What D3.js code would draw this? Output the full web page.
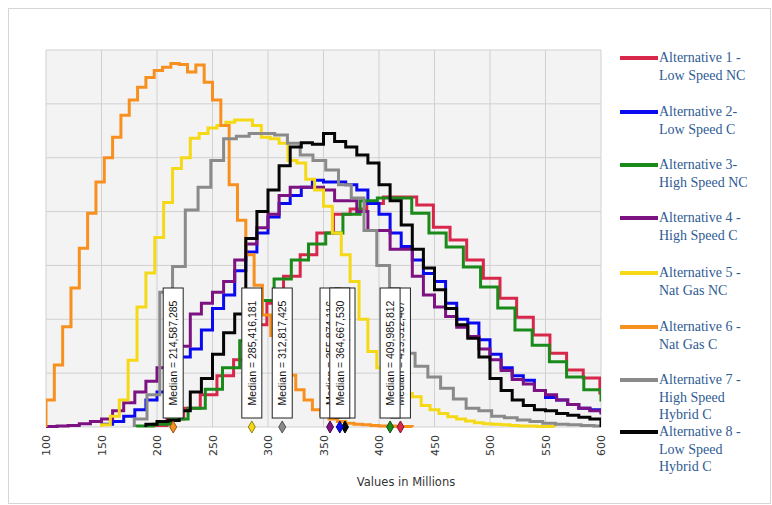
<!DOCTYPE html>
<html>
<head>
<meta charset="utf-8">
<title>Alternatives</title>
<script src="https://cdn.jsdelivr.net/npm/d3@7"></script>
<style>body{margin:0;background:#fff}</style>
</head>
<body>
<svg width="772" height="505" id="mainsvg"></svg>
<script>
// histogram heights (relative density), one array per alternative
const alt1 = [0.03,0.15,0.35,0.6,0.95,1.25,1.9,2.3,2.8,3.2,3.6,3.95,4.05,4.15,4.27,4.27,4.12,3.71,3.47,3.1,2.76,2.39,2.04,1.71,1.37,1.06,0.91,0.63,0.45];
const alt2 = [0.05,0.1,0.2,0.32,0.5,0.65,0.95,1.3,1.45,1.8,2.2,2.45,2.9,3.25,3.6,3.9,4.15,4.3,4.45,4.58,4.55,4.55,4.5,4.4,4.15,3.95,3.6,3.35,3.1,2.85,2.7,2.3,2.0,1.93,1.62,1.35,1.1,0.95,0.87,0.68,0.55,0.5,0.42,0.35,0.32,0.28];
const alt3 = [0.02,0.05,0.15,0.35,0.7,1.1,1.6,2.35,2.75,3.1,3.4,3.6,3.95,4.2,4.25,4.25,3.97,3.6,3.34,2.97,2.6,2.21,1.8,1.52,1.21,0.93,0.69,0.5];
const alt4 = [0.01,0.02,0.03,0.06,0.1,0.15,0.3,0.45,0.65,0.85,1.1,1.35,1.5,2.1,2.3,2.5,2.7,3.1,3.4,3.7,3.95,4.3,4.45,4.45,4.45,4.4,4.2,4.2,4.0,3.65,3.65,3.3,3.3,2.8,2.45,2.23,2.05,1.85,1.68,1.45,1.25,1.05,0.88,0.8,0.68,0.6,0.5,0.42,0.35,0.3,0.26];
const alt5 = [0.04,0.2,0.5,1.24,2.23,2.86,3.52,4.17,4.8,5.0,5.36,5.45,5.55,5.6,5.66,5.7,5.7,5.6,5.38,5.35,5.27,4.95,4.9,4.6,4.4,4.1,3.6,3.2,2.7,2.0,1.4,1.1,0.78,0.72,0.62,0.56,0.4,0.32,0.25,0.19,0.15,0.11,0.08,0.06,0.05,0.04,0.03,0.02,0.02,0.01,0.01];
const alt6 = [0.5,1.15,1.86,2.58,3.32,3.97,4.55,5.0,5.38,5.79,6.07,6.31,6.49,6.62,6.68,6.75,6.73,6.59,6.72,6.4,6.07,5.6,4.5,3.84,3.2,2.63,2.08,1.7,1.34,0.96,0.69,0.5,0.32,0.22,0.15,0.1,0.07,0.05,0.04,0.03,0.02,0.02,0.01,0.01];
const alt7 = [0.15,0.6,2.5,2.98,4.03,4.45,4.95,5.35,5.4,5.45,5.45,5.42,5.27,5.05,4.95,4.77,4.5,4.25,3.65,3.0,2.0,1.37,1.13,0.93,0.72,0.52,0.35,0.3,0.2,0.17,0.13,0.1,0.07,0.05,0.04,0.03,0.02];
const alt8 = [0.05,0.1,0.12,0.3,0.65,0.9,1.35,1.75,2.1,3.5,4.0,4.4,4.85,5.2,5.28,5.25,5.45,5.3,5.2,5.05,4.9,4.5,4.2,3.75,3.3,2.95,2.55,2.2,1.9,1.65,1.3,0.9,0.68,0.5,0.4,0.32,0.3,0.25,0.22,0.18,0.15];

// first bin edge and bin width (millions) for each alternative
const binStart = [194, 150, 181.5, 100, 150, 100, 179.5, 190];
const binWidth = [15, 10, 15.5, 10, 8, 7.5, 11.5, 10];

const medians = [419.312407, 364.667530, 409.985812, 355.874116, 285.416181, 214.587285, 312.817425, 369.371842];
const medianText = ['419,312,407','364,667,530','409,985,812','355,874,116','285,416,181','214,587,285','312,817,425','369,371,842'];
const labelOrder = [0, 2, 3, 7, 1, 4, 5, 6];   // later ones sit on top

const names = [
  ['Alternative 1 -', 'Low Speed NC'],
  ['Alternative 2-', 'Low Speed C'],
  ['Alternative 3-', 'High Speed NC'],
  ['Alternative 4 -', 'High Speed C'],
  ['Alternative 5 -', 'Nat Gas NC'],
  ['Alternative 6 -', 'Nat Gas C'],
  ['Alternative 7 -', 'High Speed', 'Hybrid C'],
  ['Alternative 8 -', 'Low Speed', 'Hybrid C']
];
const colors = ['#d8274b', '#0a0af0', '#1a8a1a', '#7d1282', '#f5d916', '#f7901e', '#8a8a8a', '#050505'];
const xTicks = [100, 150, 200, 250, 300, 350, 400, 450, 500, 550, 600];
const yTicks = [0, 1, 2, 3, 4, 5, 6, 7];

const series = [alt1, alt2, alt3, alt4, alt5, alt6, alt7, alt8];

let svg = d3.select('#mainsvg');
const x = d3.scaleLinear().domain([100, 600]).range([46, 601]);
const y = d3.scaleLinear().domain([0, 7]).range([427, 50]);

// outer frame
svg.append('rect').attr('x', 8.5).attr('y', 8.5).attr('width', 762).attr('height', 495)
  .attr('fill', 'none').attr('stroke', '#d6d6d6');

// plot background + grid
svg.append('rect').attr('x', x(100)).attr('y', y(7)).attr('width', x(600) - x(100)).attr('height', y(0) - y(7))
  .attr('fill', '#f3f3f3');
svg.selectAll('line.vgrid').data(xTicks).join('line').attr('class', 'vgrid')
  .attr('x1', d => x(d)).attr('x2', d => x(d)).attr('y1', y(0)).attr('y2', y(7))
  .attr('stroke', '#d0d0d0').attr('stroke-width', 1);
svg.selectAll('line.hgrid').data(yTicks).join('line').attr('class', 'hgrid')
  .attr('x1', x(100)).attr('x2', x(600)).attr('y1', d => y(d)).attr('y2', d => y(d))
  .attr('stroke', '#d0d0d0').attr('stroke-width', 1);

svg.append('clipPath').attr('id', 'plotclip').append('rect')
  .attr('x', x(100)).attr('y', y(7) - 2).attr('width', x(600) - x(100)).attr('height', y(0) - y(7) + 4);

function stepPoints(start, w, vals) {
  const pts = [[start, 0]];
  vals.forEach((v, i) => { pts.push([start + i * w, v]); pts.push([start + (i + 1) * w, v]); });
  pts.push([start + vals.length * w, 0]);
  return pts;
}
const line = d3.line().x(d => x(d[0])).y(d => y(d[1]));

svg.append('g').attr('clip-path', 'url(#plotclip)')
  .selectAll('path').data(series).join('path')
  .attr('d', (d, i) => line(stepPoints(binStart[i], binWidth[i], d)))
  .attr('fill', 'none')
  .attr('stroke', (d, i) => colors[i])
  .attr('stroke-width', 3)
  .attr('stroke-linejoin', 'miter');

// median labels
const lab = svg.append('g').selectAll('g').data(labelOrder).join('g')
  .attr('transform', i => `translate(${x(medians[i])},0)`);
lab.append('rect').attr('x', -10).attr('y', 288).attr('width', 20).attr('height', 130)
  .attr('fill', '#fff').attr('stroke', '#222').attr('stroke-width', 1);
lab.append('text').attr('transform', 'translate(4,353) rotate(-90)')
  .attr('text-anchor', 'middle')
  .style('font-family', 'Liberation Sans, Arial, sans-serif').style('font-size', '10.5px').attr('fill', '#111')
  .text(i => 'Median = ' + medianText[i]);

// median markers
svg.append('g').selectAll('path').data(labelOrder).join('path')
  .attr('d', d3.symbol().type(d3.symbolDiamond).size(42))
  .attr('transform', i => `translate(${x(medians[i])},${y(0)})`)
  .attr('fill', i => colors[i])
  .attr('stroke', i => d3.color(colors[i]).darker(1.5))
  .attr('stroke-width', 1);

// x tick labels
svg.append('g').selectAll('text').data(xTicks).join('text')
  .attr('transform', d => `translate(${x(d) + 4},435) rotate(-90)`)
  .attr('text-anchor', 'end')
  .style('font-family', 'DejaVu Sans, sans-serif').style('font-size', '11px').attr('fill', '#333')
  .text(d => d);

svg.append('text').attr('x', 406).attr('y', 486).attr('text-anchor', 'middle')
  .style('font-family', 'DejaVu Sans, sans-serif').style('font-size', '11.5px').attr('fill', '#333')
  .text('Values in Millions');

// legend
const legY = [58, 112, 165, 218, 273, 327, 380, 432];
const leg = svg.append('g').selectAll('g').data(names).join('g')
  .attr('transform', (d, i) => `translate(620,${legY[i]})`);
leg.append('line').attr('x1', 0).attr('x2', 38).attr('y1', 0).attr('y2', 0)
  .attr('stroke', (d, i) => colors[i]).attr('stroke-width', 4);
leg.append('text')
  .style('font-family', 'Liberation Serif, serif').style('font-size', '14px').attr('fill', '#2f5b93')
  .selectAll('tspan').data(d => d).join('tspan')
  .attr('x', 39).attr('y', (d, k) => 4 + k * 17.5)
  .text(d => d);
</script>
</body>
</html>
